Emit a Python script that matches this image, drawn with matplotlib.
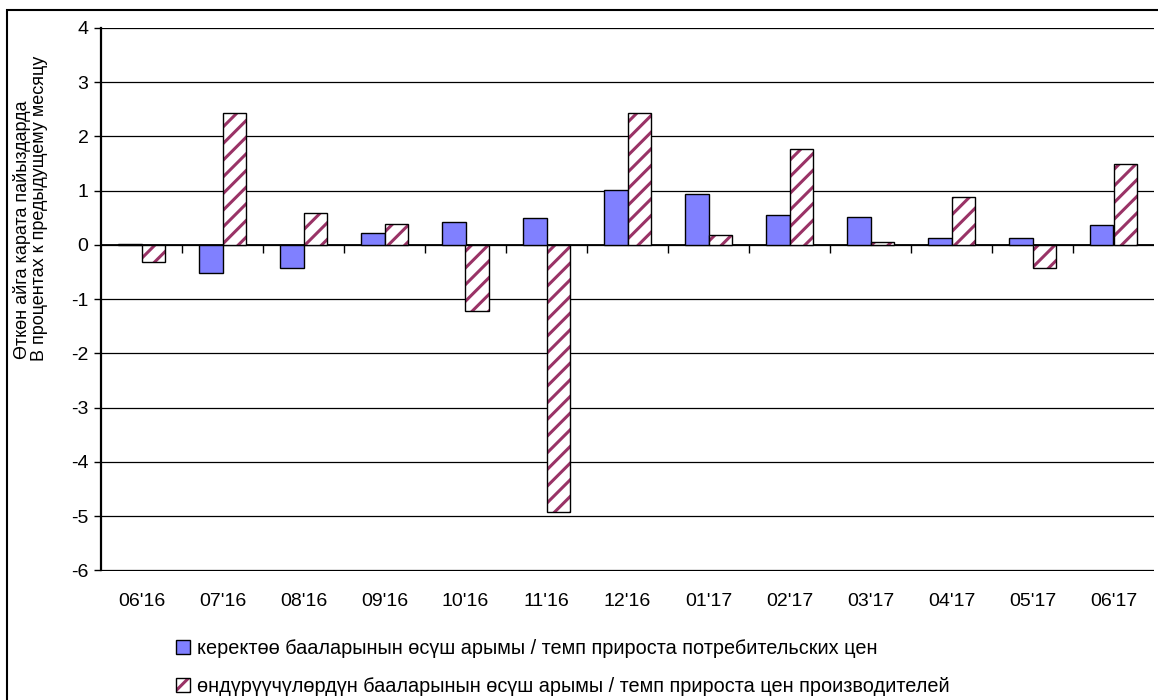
# CPI vs PPI month-on-month growth, Kyrgyz / Russian labels
import matplotlib.pyplot as plt
import numpy as np
from matplotlib.patches import Patch, Rectangle

plt.rcParams['font.family'] = ['Liberation Sans', 'DejaVu Sans']
plt.rcParams['hatch.linewidth'] = 2.2
plt.rcParams['axes.unicode_minus'] = False

months = ["06'16", "07'16", "08'16", "09'16", "10'16", "11'16", "12'16",
          "01'17", "02'17", "03'17", "04'17", "05'17", "06'17"]
cpi = [0.02, -0.51, -0.43, 0.22, 0.42, 0.49, 1.02, 0.94, 0.55, 0.52, 0.12, 0.12, 0.37]
ppi = [-0.32, 2.43, 0.59, 0.39, -1.22, -4.93, 2.43, 0.19, 1.77, 0.06, 0.89, -0.43, 1.50]

cpi_label = "керектөө бааларынын өсүш арымы / темп прироста потребительских цен"
ppi_label = "өндүрүүчүлөрдүн бааларынын өсүш арымы / темп прироста цен производителей"
ylabel_kg = "Өткөн айга карата пайыздарда"
ylabel_ru = "В процентах к предыдущему месяцу"

cpi_color = '#8080FF'
ppi_color = '#993366'

W, H = 1158, 700
fig = plt.figure(figsize=(W / 100, H / 100), dpi=100)
ax = fig.add_axes([101 / W, 1 - 570.5 / H, 1053 / W, (570.5 - 28) / H])

x = np.arange(len(months))
w = 0.296

ax.bar(x - w / 2, cpi, w, color=cpi_color, edgecolor='black', linewidth=1.0, zorder=3)
ax.bar(x + w / 2, ppi, w, color='white', edgecolor=ppi_color, hatch='//', linewidth=0, zorder=3)
ax.bar(x + w / 2, ppi, w, fill=False, edgecolor='black', linewidth=1.0, zorder=4)

ax.set_xlim(-0.5, len(months) - 0.5)
ax.set_ylim(-6, 4)
ax.set_yticks(np.arange(-6, 5, 1))
ax.yaxis.grid(True, color='black', linewidth=0.9, zorder=0)
ax.set_axisbelow(True)

# category axis crossing at zero with ticks between categories
ax.axhline(0, color='black', linewidth=1.3, zorder=2)
ax.vlines(np.arange(0.5, len(months) - 0.5, 1), -0.14, 0, color='black', linewidth=1.0, zorder=2)

ax.set_xticks(x)
ax.set_xticklabels(months)
ax.tick_params(axis='x', length=0, pad=16, labelsize=14)
ax.tick_params(axis='y', length=5, width=1, pad=4, labelsize=14, direction='out')

for s in ['top', 'right', 'bottom']:
    ax.spines[s].set_visible(False)
ax.spines['left'].set_linewidth(1.6)

fig.text(22 / W, 1 - 230 / H, ylabel_kg, rotation=90, ha='center', va='center', fontsize=13)
fig.text(40 / W, 1 - 208 / H, ylabel_ru, rotation=90, ha='center', va='center', fontsize=13)

h_cpi = Patch(facecolor=cpi_color, edgecolor='black', linewidth=1.0)
h_ppi = (Patch(facecolor='white', edgecolor=ppi_color, hatch='//', linewidth=0),
         Patch(fill=False, edgecolor='black', linewidth=1.0))
fig.legend([h_cpi, h_ppi], [cpi_label, ppi_label], loc='upper left',
           bbox_to_anchor=(176 / W, 1 - 639 / H), frameon=False, fontsize=14.3,
           handlelength=0.7, handleheight=0.7, handletextpad=0.35, labelspacing=0.95,
           borderpad=0, borderaxespad=0)

# outer chart border
fig.add_artist(Rectangle((7.5 / W, -0.1), 1.2, 1.1 - 10 / H, transform=fig.transFigure,
                         fill=False, edgecolor='black', linewidth=1.5))

fig.savefig('out.png', dpi=100)
